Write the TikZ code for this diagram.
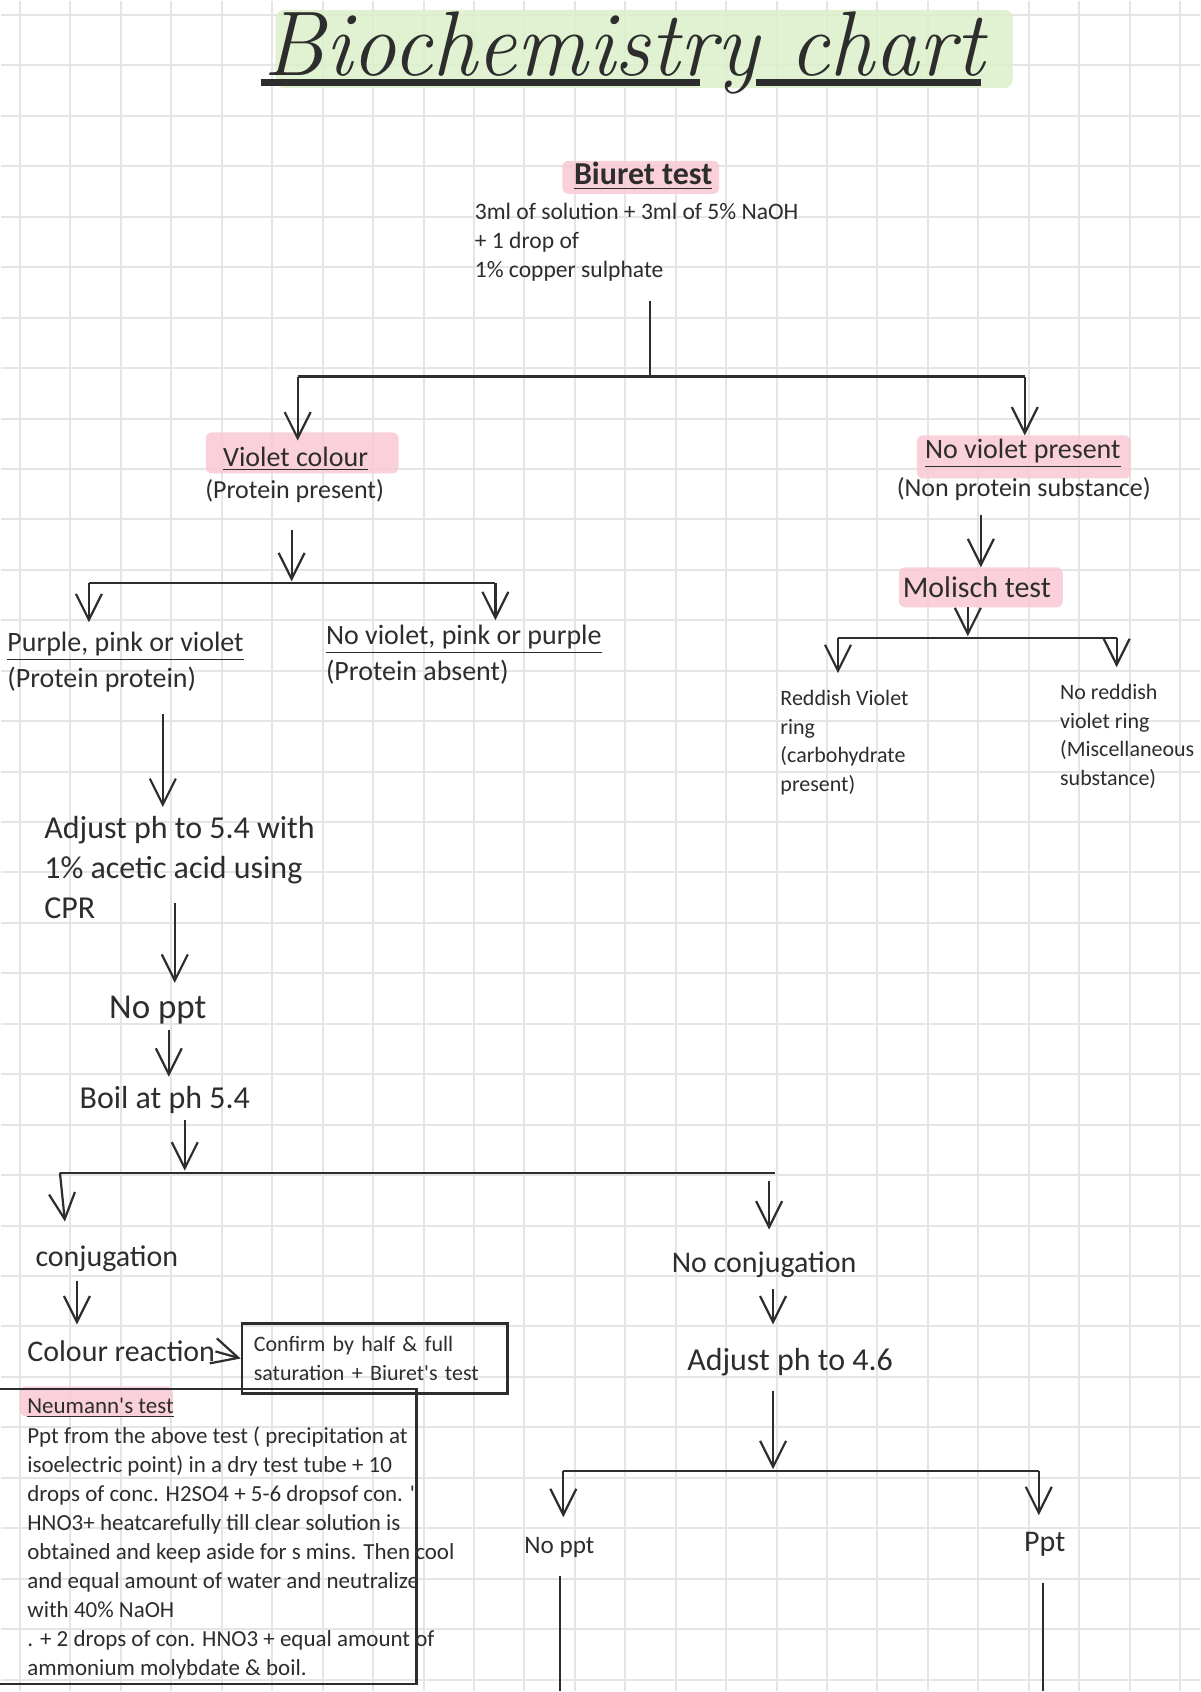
\documentclass[tikz,border=0pt]{standalone}
\usepackage{fontspec}
\newfontfamily\hand{Carlito}
\usetikzlibrary{arrows.meta}
\definecolor{ink}{RGB}{45,45,45}
\definecolor{gridline}{RGB}{229,229,229}
\definecolor{hlpink}{RGB}{250,200,212}
\definecolor{hlgreen}{RGB}{219,240,201}

\begin{document}
\begin{tikzpicture}[x=0.5pt, y=-0.5pt,
  ln/.style={draw=ink, line width=1.1pt},
  arr/.style={ln, -{Straight Barb[length=13pt, width=13pt]}},
  big/.style={inner sep=0, text=ink, font=\hand\fontsize{16}{20}\selectfont, align=left},
  mid/.style={inner sep=0, text=ink, font=\hand\fontsize{14}{16}\selectfont, align=left},
  small/.style={inner sep=0, text=ink, font=\hand\fontsize{11.5}{14.5}\selectfont, align=left},
  hl/.style={fill=hlpink, fill opacity=0.85, rounded corners=3pt}]
\path [fill=white] (0,0) rectangle (1200,1692);
\foreach \i in {0,...,23} {
  \draw [gridline, line width=1pt] (19+50.5*\i,0) -- (19+50.5*\i,1692);
}
\foreach \j in {0,...,33} {
  \draw [gridline, line width=1pt] (0,14+50.5*\j) -- (1200,14+50.5*\j);
}
\useasboundingbox (0,0) rectangle (1200,1692);

% highlights
\path [fill=hlgreen, fill opacity=0.85, rounded corners=4pt] (275,9) rectangle (1013,87);
\path [hl] (562,160) rectangle (719,193);
\path [hl] (205,432) rectangle (398,473);
\path [hl] (917,435) rectangle (1131,478);
\path [hl] (899,567) rectangle (1063,607);
\path [hl] (19,1387) rectangle (172,1417);

% title
\node [anchor=base, text=ink, font=\fontsize{46}{46}\selectfont\itshape, xscale=0.97] (title) at (624,75) {Biochemistry chart};
\draw [ink, line width=3.5pt] (260,82) -- (700,82) (756,82) -- (981,82);

% texts
\node [mid, font=\hand\bfseries\fontsize{16}{16}\selectfont] (biuret) at (643,175) {\underline{Biuret test}};
\node [small, anchor=north west, font=\hand\fontsize{11.8}{14.5}\selectfont] (biuretinfo) at (474,202) {3ml of solution + 3ml of 5\% NaOH\\+ 1 drop of\\1\% copper sulphate};
\node [mid] (violet) at (295,458) {\underline{Violet colour}};
\node [mid, font=\hand\fontsize{13}{16}\selectfont] (present) at (294,491) {(Protein present)};
\node [mid] (noviolet) at (1023,453) {\underline{No violet present}};
\node [mid, font=\hand\fontsize{13}{16}\selectfont] (nonprotein) at (1024,489) {(Non protein substance)};
\node [mid, font=\hand\fontsize{15}{16}\selectfont] (molisch) at (977,587) {Molisch test};
\node [mid, anchor=west] (purple) at (6,646) {\underline{Purple, pink or violet}};
\node [mid, anchor=west] (protprot) at (6,679) {(Protein protein)};
\node [mid, anchor=west] (nopurple) at (325,639) {\underline{No violet, pink or purple}};
\node [mid, anchor=west] (absent) at (325,672) {(Protein absent)};
\node [small, anchor=north west, font=\hand\fontsize{11}{14.25}\selectfont] (reddish) at (780,690) {Reddish Violet\\ring\\(carbohydrate\\present)};
\node [small, anchor=north west, font=\hand\fontsize{11}{14.25}\selectfont] (noreddish) at (1060,684) {No reddish\\violet ring\\(Miscellaneous\\substance)};
\node [big, anchor=north west] (adjust54) at (43,816) {Adjust ph to 5.4 with\\1\% acetic acid using\\CPR};
\node [big, font=\hand\fontsize{17.5}{18}\selectfont] (noppt1) at (157,1010) {No ppt};
\node [big] (boil) at (164,1100) {Boil at ph 5.4};
\node [big, font=\hand\fontsize{15}{18}\selectfont] (conj) at (106,1259) {conjugation};
\node [big, anchor=west, font=\hand\fontsize{15}{18}\selectfont] (colour) at (26,1352) {Colour reaction};
\node [small, draw=ink, line width=1.1pt, anchor=north west, font=\hand\fontsize{11}{14.5}\selectfont, inner xsep=6pt, text width=121pt, minimum height=35pt] (confirm) at (240,1323) {Confirm by half \& full\\saturation + Biuret's test};
\node [small, anchor=west] (neumann) at (26,1408) {\underline{Neumann's test}};
\node [small, anchor=north west] (neubody) at (26,1427) {Ppt from the above test ( precipitation at\\isoelectric point) in a dry test tube + 10\\drops of conc. H2SO4 + 5-6 dropsof con. '\\HNO3+ heatcarefully till clear solution is\\obtained and keep aside for s mins. Then cool\\and equal amount of water and neutralize\\with 40\% NaOH\\. + 2 drops of con. HNO3 + equal amount of\\ammonium molybdate \& boil.};
\node [big, font=\hand\fontsize{15}{18}\selectfont] (noconj) at (764,1265) {No conjugation};
\node [big] (adjust46) at (790,1363) {Adjust ph to 4.6};
\node [mid, font=\hand\fontsize{12.6}{16}\selectfont] (noppt2) at (559,1548) {No ppt};
\node [mid, font=\hand\fontsize{15}{16}\selectfont] (ppt) at (1045,1545) {Ppt};
\draw [ln] (-5,1390) rectangle (416,1685);

% connectors
\foreach \n/\x/\y in {stem/650/300, b1l/297/376, b1r/1025/376, b1lt/297/440, b1rt/1025/435,
  vc/291/530, vct/291/581, b2l/88/583, b2r/495/583, b2lt/88/622, b2rt/495/620,
  nv/981/515, nvt/981/567, ml/968/607, mlt/968/636, b3l/838/638, b3r/1117/638, b3lt/838/673, b3rt/1117/667,
  pp/162/714, ppt/162/807, ad/174/903, adt/174/983, np/168/1030, npt/168/1077, bo/184/1120, bot/184/1171,
  b4l/59/1173, b4r/775/1173, b4lt/64/1222, b4rs/769/1181, b4rt/769/1230,
  cj/76/1281, cjt/76/1325, nc/773/1290, nct/773/1325, ap/773/1392, apt/773/1470,
  b5l/563/1472, b5r/1039/1472, b5lt/563/1518, b5rt/1039/1516,
  n0/560/1577, n1/560/1692, p0/1043/1584, p1/1043/1692} {
  \coordinate (\n) at (\x,\y);
}
\draw [ln] (stem) -- (stem |- b1l);
\foreach \a/\b in {b1l/b1r, b2l/b2r, b3l/b3r, b4l/b4r, b5l/b5r, n0/n1, p0/p1} {
  \draw [ln] (\a) -- (\b);
}
\foreach \a/\b in {b1l/b1lt, b1r/b1rt, vc/vct, b2l/b2lt, b2r/b2rt, nv/nvt, ml/mlt, b3l/b3lt, b3r/b3rt,
  pp/ppt, ad/adt, np/npt, bo/bot, b4l/b4lt, b4rs/b4rt, cj/cjt, nc/nct, ap/apt, b5l/b5lt, b5r/b5rt} {
  \draw [arr] (\a) -- (\b);
}
\draw [arr] (colour.east) -- (confirm.west);
\end{tikzpicture}
\end{document}
